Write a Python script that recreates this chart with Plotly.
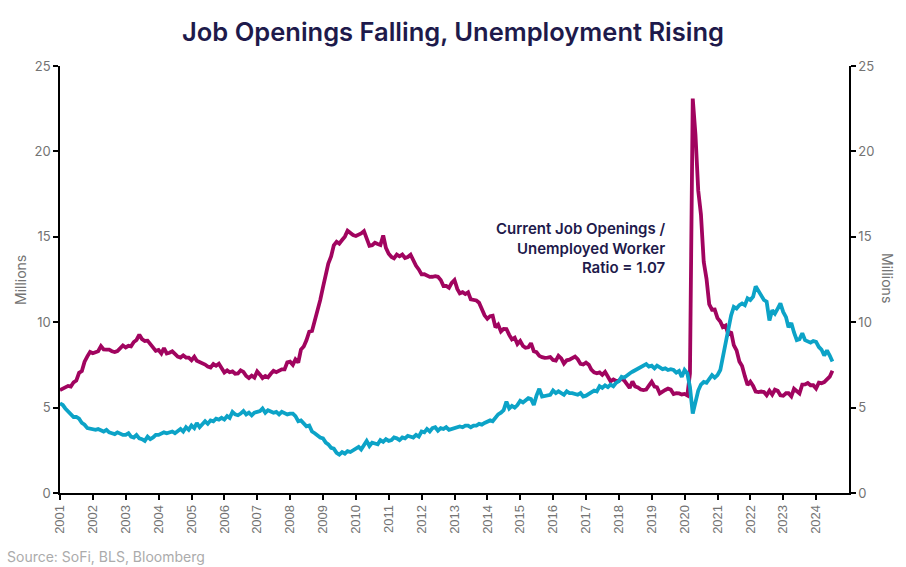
import pandas as pd
import plotly.graph_objects as go

# ---- data (millions), monthly Jan 2001 - Jul 2024 ----
unemployed = [
    6.02, 6.09, 6.14, 6.27, 6.23, 6.48, 6.58, 7.04, 7.14, 7.69, 8.00, 8.26,
    8.18, 8.22, 8.30, 8.60, 8.40, 8.39, 8.39, 8.30, 8.25, 8.31, 8.52, 8.64,
    8.52, 8.62, 8.59, 8.84, 8.96, 9.27, 9.01, 8.90, 8.92, 8.73, 8.58, 8.32,
    8.37, 8.17, 8.49, 8.17, 8.21, 8.29, 8.14, 7.99, 7.93, 8.06, 7.93, 7.93,
    7.78, 7.98, 7.74, 7.67, 7.65, 7.52, 7.41, 7.35, 7.55, 7.45, 7.57, 7.28,
    7.06, 7.18, 7.07, 7.12, 6.98, 7.00, 7.18, 7.09, 6.85, 6.73, 6.87, 6.76,
    7.12, 6.93, 6.73, 6.85, 6.77, 6.98, 7.15, 7.07, 7.17, 7.24, 7.24, 7.65,
    7.69, 7.50, 7.82, 7.64, 8.40, 8.58, 8.94, 9.44, 9.49, 10.07, 10.54, 11.29,
    12.06, 12.90, 13.43, 13.85, 14.50, 14.71, 14.60, 14.81, 15.01, 15.35, 15.22, 15.10,
    15.05, 15.11, 15.20, 15.33, 14.85, 14.47, 14.51, 14.65, 14.58, 14.52, 15.08, 14.35,
    14.01, 13.82, 13.74, 13.96, 13.86, 13.96, 13.76, 13.82, 13.95, 13.59, 13.30, 13.09,
    12.80, 12.81, 12.71, 12.65, 12.66, 12.69, 12.66, 12.47, 12.12, 12.12, 12.01, 12.30,
    12.47, 11.95, 11.69, 11.76, 11.65, 11.75, 11.34, 11.28, 11.27, 11.14, 10.79, 10.40,
    10.20, 10.35, 10.38, 9.70, 9.86, 9.46, 9.61, 9.60, 9.26, 8.99, 9.09, 8.72,
    8.90, 8.61, 8.50, 8.53, 8.77, 8.30, 8.25, 8.03, 7.95, 7.91, 7.93, 7.96,
    7.79, 7.75, 8.03, 7.88, 7.58, 7.77, 7.81, 7.88, 7.99, 7.83, 7.56, 7.52,
    7.63, 7.51, 7.22, 7.06, 7.01, 7.06, 6.92, 7.09, 6.82, 6.54, 6.65, 6.56,
    6.57, 6.70, 6.59, 6.38, 6.15, 6.53, 6.24, 6.18, 6.06, 6.03, 6.06, 6.29,
    6.51, 6.23, 6.19, 5.83, 5.90, 6.03, 6.11, 6.05, 5.80, 5.85, 5.83, 5.77,
    5.80, 5.71, 7.01, 23.09, 20.99, 17.70, 16.31, 13.54, 12.54, 11.05, 10.73, 10.74,
    10.24, 10.04, 9.71, 9.80, 9.29, 9.44, 8.66, 8.35, 7.70, 7.44, 6.84, 6.32,
    6.52, 6.27, 5.94, 5.91, 5.94, 5.91, 5.72, 5.99, 5.76, 6.05, 5.99, 5.72,
    5.69, 5.84, 5.84, 5.66, 6.10, 5.96, 5.83, 6.35, 6.36, 6.44, 6.31, 6.31,
    6.12, 6.46, 6.43, 6.49, 6.65, 6.81, 7.16,
]

job_openings = [
    5.25, 5.15, 4.95, 4.80, 4.60, 4.45, 4.45, 4.35, 4.10, 4.00, 3.80, 3.75,
    3.75, 3.70, 3.75, 3.65, 3.60, 3.70, 3.55, 3.50, 3.45, 3.55, 3.45, 3.40,
    3.40, 3.50, 3.30, 3.25, 3.40, 3.20, 3.15, 3.05, 3.30, 3.15, 3.25, 3.40,
    3.40, 3.45, 3.55, 3.50, 3.55, 3.60, 3.50, 3.60, 3.75, 3.60, 3.85, 3.70,
    3.95, 3.80, 4.10, 3.85, 4.00, 4.20, 4.05, 4.25, 4.20, 4.35, 4.30, 4.40,
    4.30, 4.50, 4.40, 4.75, 4.60, 4.55, 4.65, 4.80, 4.60, 4.70, 4.55, 4.70,
    4.75, 4.80, 4.95, 4.70, 4.85, 4.80, 4.70, 4.75, 4.60, 4.75, 4.65, 4.60,
    4.65, 4.65, 4.50, 4.20, 4.25, 4.05, 3.90, 3.95, 3.60, 3.50, 3.35, 3.25,
    3.20, 2.95, 2.85, 2.65, 2.60, 2.35, 2.25, 2.40, 2.30, 2.45, 2.40, 2.50,
    2.60, 2.70, 2.55, 2.85, 3.05, 2.75, 2.95, 2.90, 2.85, 3.10, 3.00, 3.15,
    3.05, 3.10, 3.25, 3.20, 3.10, 3.25, 3.20, 3.35, 3.30, 3.25, 3.40, 3.30,
    3.60, 3.55, 3.75, 3.60, 3.80, 3.85, 3.65, 3.80, 3.75, 3.85, 3.70, 3.75,
    3.85, 3.85, 3.90, 3.85, 3.95, 3.95, 3.85, 3.95, 3.95, 4.05, 4.00, 4.10,
    4.15, 4.25, 4.20, 4.45, 4.60, 4.70, 4.85, 5.35, 4.95, 5.10, 5.00, 5.15,
    5.40, 5.30, 5.45, 5.55, 5.50, 5.15, 5.70, 6.10, 5.65, 5.70, 5.70, 5.75,
    6.00, 5.85, 5.95, 5.85, 5.75, 5.95, 5.85, 5.85, 5.80, 5.75, 5.85, 5.65,
    5.70, 5.80, 5.95, 6.00, 5.95, 6.25, 6.15, 6.30, 6.20, 6.35, 6.25, 6.45,
    6.55, 6.80, 6.75, 6.90, 7.00, 7.10, 7.20, 7.30, 7.40, 7.45, 7.55, 7.40,
    7.45, 7.30, 7.45, 7.35, 7.25, 7.30, 7.20, 7.25, 7.20, 7.05, 7.15, 6.80,
    7.20, 7.00, 6.20, 4.65, 5.40, 6.00, 6.35, 6.50, 6.45, 6.70, 6.90, 6.75,
    6.90, 7.20, 8.00, 8.90, 9.60, 10.40, 10.90, 10.80, 11.00, 11.10, 11.00, 11.40,
    11.30, 11.50, 12.10, 11.80, 11.60, 11.30, 11.20, 10.10, 10.70, 10.50, 10.80, 11.10,
    10.60, 10.30, 9.70, 9.95, 9.40, 8.95, 9.00, 9.35, 8.95, 8.85, 8.80, 8.90,
    8.85, 8.55, 8.40, 8.05, 8.35, 8.05, 7.70,
]

years = list(range(2001, 2025))
year_labels = [str(y) for y in years]
y_ticks = [0, 5, 10, 15, 20, 25]

dates = pd.date_range("2001-01-01", periods=len(unemployed), freq="MS")
tick_dates = [f"{y}-01-01" for y in years]

MAGENTA = "#A1045F"
TEAL = "#0CA3C7"
NAVY = "#1E1A4B"
GRAY = "#737373"

fig = go.Figure()
fig.add_trace(go.Scatter(x=dates, y=unemployed, mode="lines",
                         line=dict(color=MAGENTA, width=3.8), yaxis="y",
                         name="Unemployed", hoverinfo="skip"))
fig.add_trace(go.Scatter(x=dates, y=job_openings, mode="lines",
                         line=dict(color=TEAL, width=3.8), yaxis="y2",
                         name="Job Openings", hoverinfo="skip"))

axis_common = dict(range=[0, 25], tickvals=y_ticks, showgrid=False, zeroline=False,
                   showline=True, linecolor="black", linewidth=1.5,
                   ticks="outside", ticklen=5, tickcolor="black", tickwidth=1.5,
                   tickfont=dict(family="Inter", size=13, color=GRAY))

fig.update_layout(
    width=906, height=567,
    margin=dict(l=60, r=57, t=66, b=74),
    paper_bgcolor="white", plot_bgcolor="white",
    showlegend=False,
    title=dict(text="Job Openings Falling, Unemployment Rising",
               x=0.5, xref="container", xanchor="center",
               y=1 - 32 / 567, yref="container", yanchor="middle",
               font=dict(family="Inter", size=25.5, color=NAVY, weight=600)),
    xaxis=dict(type="date", range=["2001-01-01", "2025-01-01"],
               tickvals=tick_dates, ticktext=year_labels, tickangle=-90,
               showgrid=False, zeroline=False, showline=True,
               linecolor="black", linewidth=1.5, ticks="outside", ticklen=5,
               tickcolor="black", tickwidth=1.5,
               tickfont=dict(family="Liberation Sans, Arial", size=13, color=GRAY)),
    yaxis=dict(**axis_common),
    yaxis2=dict(**axis_common, overlaying="y", side="right"),
    annotations=[
        dict(text="Millions", xref="paper", yref="paper", x=(20 - 60) / 789,
             y=(493 - 280) / 427, textangle=-90, showarrow=False,
             xanchor="center", yanchor="middle",
             font=dict(family="Inter", size=14, color=GRAY)),
        dict(text="Millions", xref="paper", yref="paper", x=(888 - 60) / 789,
             y=(493 - 278) / 427, textangle=90, showarrow=False,
             xanchor="center", yanchor="middle",
             font=dict(family="Inter", size=14, color=GRAY)),
        dict(text="Current Job Openings /<br>Unemployed Worker<br>Ratio = 1.07",
             xref="paper", yref="paper", x=(668 - 60) / 789,
             y=(493 - 248) / 427, showarrow=False, align="right",
             xanchor="right", yanchor="middle",
             font=dict(family="Inter", size=15, color=NAVY, weight=600)),
        dict(text="Source: SoFi, BLS, Bloomberg", xref="paper", yref="paper",
             x=(5 - 60) / 789, y=(493 - 556) / 427, showarrow=False,
             xanchor="left", yanchor="middle",
             font=dict(family="Inter", size=14, color="#ABABAB")),
    ],
)

fig.write_html("out.html", config={"displayModeBar": False},
               post_script="document.body.style.margin='0';")
